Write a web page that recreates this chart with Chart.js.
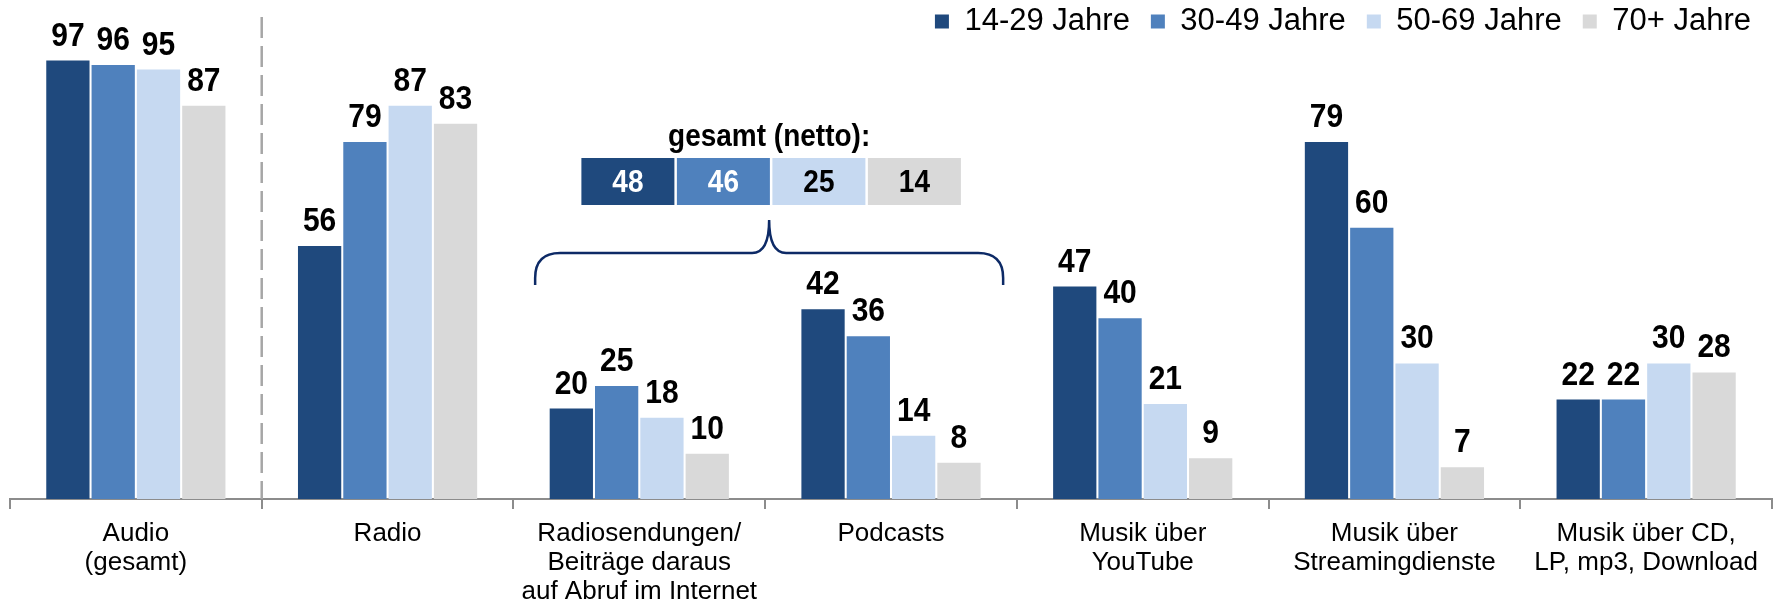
<!DOCTYPE html>
<html>
<head>
<meta charset="utf-8">
<script src="https://cdn.jsdelivr.net/npm/chart.js@4.4.1/dist/chart.umd.min.js"></script>
<style>
  html, body { margin: 0; padding: 0; background: #ffffff; }
  #wrap { width: 1781px; height: 605px; }
</style>
</head>
<body>
<div id="wrap"><canvas id="c" width="1781" height="605"></canvas></div>
<script>
const categories = [
  ["Audio", "(gesamt)"],
  "Radio",
  ["Radiosendungen/", "Beiträge daraus", "auf Abruf im Internet"],
  "Podcasts",
  ["Musik über", "YouTube"],
  ["Musik über", "Streamingdienste"],
  ["Musik über CD,", "LP, mp3, Download"]
];
const seriesNames = ["14-29 Jahre", "30-49 Jahre", "50-69 Jahre", "70+ Jahre"];
const age14to29 = [97, 56, 20, 42, 47, 79, 22];
const age30to49 = [96, 79, 25, 36, 40, 60, 22];
const age50to69 = [95, 87, 18, 14, 21, 30, 30];
const age70plus = [87, 83, 10, 8, 9, 7, 28];
const gesamtNetto = [48, 46, 25, 14];
const gesamtTitle = "gesamt (netto):";

const colors = ["#1F497D", "#4F81BD", "#C6D9F1", "#D9D9D9"];
const FONT = "'Liberation Sans', Arial, Helvetica, sans-serif";
Chart.defaults.font.family = FONT;
Chart.defaults.color = "#000000";

function tallText(ctx, text, x, y, sy) {
  ctx.save();
  ctx.translate(x, y);
  ctx.scale(1, sy);
  ctx.fillText(text, 0, 0);
  ctx.restore();
}

const overlay = {
  id: 'overlay',
  afterDatasetsDraw(chart) {
    const ctx = chart.ctx;
    const xs = chart.scales.x;
    const area = chart.chartArea;
    ctx.save();
    // value labels
    ctx.font = "bold 30px " + FONT;
    ctx.fillStyle = "#000";
    ctx.textAlign = "center";
    ctx.textBaseline = "alphabetic";
    chart.data.datasets.forEach((ds, i) => {
      chart.getDatasetMeta(i).data.forEach((bar, j) => {
        tallText(ctx, String(ds.data[j]), bar.x, bar.y - 15, 1.1);
      });
    });
    // dashed separator after first category
    const step = xs.getPixelForValue(1) - xs.getPixelForValue(0);
    const sepX = xs.getPixelForValue(0) + step / 2;
    ctx.strokeStyle = "#a6a6a6";
    ctx.lineWidth = 2.5;
    ctx.setLineDash([21, 8]);
    ctx.beginPath();
    ctx.moveTo(sepX, 17);
    ctx.lineTo(sepX, area.bottom);
    ctx.stroke();
    ctx.setLineDash([]);

    // bracket over Radiosendungen + Podcasts
    const cx = xs.getPixelForValue(2) + step / 2 + 4;
    const L = cx - 234, R = cx + 234, yb = 285, yh = 253, yt = 220, r = 25;
    ctx.strokeStyle = "#0d2a66";
    ctx.lineWidth = 2.5;
    ctx.beginPath();
    ctx.moveTo(L, yb);
    ctx.lineTo(L, yh + r);
    ctx.quadraticCurveTo(L, yh, L + r, yh);
    ctx.lineTo(cx - 17, yh);
    ctx.quadraticCurveTo(cx, yh, cx, yt);
    ctx.quadraticCurveTo(cx, yh, cx + 17, yh);
    ctx.lineTo(R - r, yh);
    ctx.quadraticCurveTo(R, yh, R, yh + r);
    ctx.lineTo(R, yb);
    ctx.stroke();

    // gesamt (netto) boxes
    ctx.font = "bold 28px " + FONT;
    ctx.fillStyle = "#000";
    ctx.textAlign = "center";
    ctx.textBaseline = "alphabetic";
    tallText(ctx, gesamtTitle, cx, 146, 1.15);
    const bw = 93, gap = 2.5, bh = 47, by = 158;
    const total = gesamtNetto.length * bw + (gesamtNetto.length - 1) * gap;
    let bx = cx + 2 - total / 2;
    gesamtNetto.forEach((v, i) => {
      ctx.fillStyle = colors[i];
      ctx.fillRect(bx, by, bw, bh);
      ctx.fillStyle = i < 2 ? "#ffffff" : "#000000";
      tallText(ctx, String(v), bx + bw / 2, by + 34, 1.15);
      bx += bw + gap;
    });
    ctx.restore();
  }
};

const data = {
  labels: categories,
  datasets: [age14to29, age30to49, age50to69, age70plus].map((arr, i) => ({
    label: seriesNames[i],
    data: arr,
    backgroundColor: colors[i],
    borderWidth: 0,
    barPercentage: 0.955,
    categoryPercentage: 0.72
  }))
};

new Chart(document.getElementById("c"), {
  type: "bar",
  data: data,
  plugins: [overlay],
  options: {
    responsive: false,
    devicePixelRatio: 1,
    animation: false,
    layout: { padding: { top: -15, left: 10, right: 9, bottom: 0 } },
    plugins: {
      legend: {
        display: true,
        position: "top",
        align: "end",
        labels: {
          boxWidth: 14,
          boxHeight: 14,
          padding: 21,
          color: "#000",
          font: { size: 31, family: FONT }
        }
      },
      tooltip: { enabled: false }
    },
    scales: {
      x: {
        offset: true,
        grid: {
          offset: true,
          drawOnChartArea: false,
          drawTicks: true,
          tickLength: 10,
          color: "#8c8c8c",
          lineWidth: 2
        },
        border: { display: true, color: "#8c8c8c", width: 2 },
        ticks: {
          autoSkip: false,
          maxRotation: 0,
          minRotation: 0,
          padding: 10,
          color: "#000",
          font: { size: 26, family: FONT, lineHeight: 1.12 }
        },
        afterFit(scale) { scale.height = 106; }
      },
      y: {
        display: false,
        min: 0,
        max: 100
      }
    }
  }
});
</script>
</body>
</html>
